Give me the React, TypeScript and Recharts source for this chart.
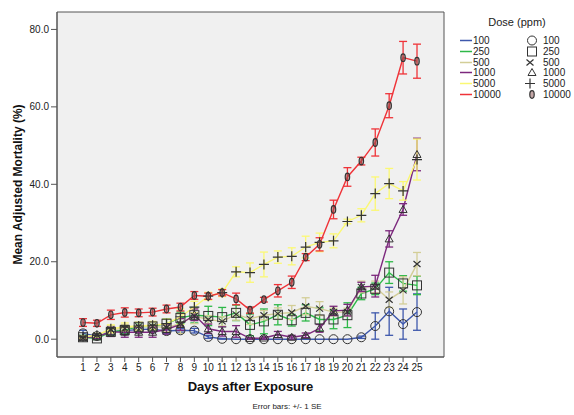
import React from "react";
import { ComposedChart, Line, ErrorBar, XAxis, YAxis, CartesianGrid, ReferenceArea } from "recharts";

const days = [1, 2, 3, 4, 5, 6, 7, 8, 9, 10, 11, 12, 13, 14, 15, 16, 17, 18, 19, 20, 21, 22, 23, 24, 25];

const dose100 = [1.5, 0.8, 1.9, 2.2, 2.5, 2.6, 2.1, 2.3, 2.2, 0.6, 0.1, 0, 0, 0, 0, 0, 0, 0, 0, 0, 0.5, 3.4, 7.2, 3.9, 7.0];
const dose100Se = [0.8, 0.5, 0.8, 0.8, 0.8, 0.7, 0.7, 0.5, 0.6, 0.4, 0.1, 0, 0, 0, 0, 0, 0, 0, 0, 0, 0.3, 3.4, 6.2, 3.9, 4.7];

const dose250 = [0.5, 0.2, 1.9, 2.4, 3.2, 3.3, 4.0, 5.5, 6.2, 6.0, 5.7, 6.8, 3.7, 4.6, 6.3, 4.9, 6.8, 5.1, 5.1, 6.2, 11.8, 13.0, 17.2, 14.4, 13.9];
const dose250Se = [0.5, 0.3, 1.0, 1.0, 1.0, 1.0, 1.2, 1.5, 2.0, 2.5, 2.5, 2.0, 2.8, 3.2, 2.6, 1.5, 2.1, 3.0, 2.4, 3.2, 1.6, 1.5, 2.8, 2.0, 2.4];

const dose500 = [0.3, 1.0, 2.5, 2.8, 3.3, 3.3, 3.0, 4.0, 6.0, 5.1, 4.6, 6.4, 5.3, 6.2, 6.6, 6.9, 8.5, 7.9, 7.0, 7.0, 13.5, 13.5, 10.2, 12.6, 19.4];
const dose500Se = [0.3, 0.5, 1.0, 1.0, 1.0, 1.0, 1.0, 2.5, 2.0, 1.0, 1.2, 1.5, 1.5, 1.2, 1.5, 1.8, 2.2, 1.8, 1.0, 1.0, 1.5, 1.5, 2.0, 3.5, 3.0];

const dose1000 = [0.4, 0.6, 1.9, 1.8, 1.8, 1.8, 2.5, 3.8, 6.3, 2.7, 2.0, 2.0, 0.2, 0.3, 1.2, 0.5, 1.0, 2.8, 7.3, 7.5, 13.5, 13.7, 25.9, 33.5, 47.7];
const dose1000Se = [0.3, 0.4, 1.2, 1.3, 1.3, 1.3, 1.2, 1.5, 1.5, 1.2, 1.2, 1.5, 0.2, 0.3, 0.8, 0.5, 0.6, 1.0, 1.2, 1.5, 1.2, 2.8, 2.1, 1.5, 4.2];

const dose5000 = [0.6, 1.0, 2.7, 3.2, 3.4, 3.6, 4.0, 5.8, 8.3, 11.1, 12.0, 17.4, 17.2, 19.3, 21.2, 21.4, 23.8, 25.0, 25.4, 30.4, 32.0, 37.6, 40.2, 38.3, 46.4];
const dose5000Se = [0.3, 0.5, 1.0, 1.0, 1.0, 1.0, 1.2, 2.0, 1.5, 1.0, 1.0, 1.3, 2.5, 3.2, 1.6, 2.2, 2.8, 2.4, 1.8, 0.6, 1.7, 4.3, 3.9, 2.4, 5.3];

const dose10000 = [4.3, 4.1, 6.3, 6.9, 6.8, 7.0, 7.8, 8.3, 11.3, 11.1, 12.0, 10.4, 7.5, 10.2, 12.5, 14.7, 21.2, 24.5, 33.5, 41.9, 46.0, 50.8, 60.3, 72.7, 71.8];
const dose10000Se = [1.0, 0.8, 1.2, 1.2, 1.0, 1.0, 1.0, 1.0, 1.0, 0.8, 0.8, 1.5, 0.8, 0.6, 1.6, 1.6, 0.9, 1.7, 2.4, 2.4, 1.0, 3.5, 3.1, 4.2, 4.4];

const yTicks = [0, 20, 40, 60, 80];

type Shape = "circle" | "square" | "cross" | "triangle" | "plus" | "zero";

const series = [
  { key: "d100", label: "100", mean: dose100, se: dose100Se, color: "#3E58AC", shape: "circle" as Shape },
  { key: "d250", label: "250", mean: dose250, se: dose250Se, color: "#2EB848", shape: "square" as Shape },
  { key: "d500", label: "500", mean: dose500, se: dose500Se, color: "#D3CE97", shape: "cross" as Shape },
  { key: "d1000", label: "1000", mean: dose1000, se: dose1000Se, color: "#7C287D", shape: "triangle" as Shape },
  { key: "d5000", label: "5000", mean: dose5000, se: dose5000Se, color: "#FBF873", shape: "plus" as Shape },
  { key: "d10000", label: "10000", mean: dose10000, se: dose10000Se, color: "#EF3338", shape: "zero" as Shape },
];

const rows = days.map((day, i) => {
  const row: Record<string, number> = { day };
  series.forEach((s) => {
    row[s.key] = s.mean[i];
    row[s.key + "Se"] = s.se[i];
  });
  return row;
});

const FONT = '"Liberation Sans", Arial, sans-serif';
const MARK = "#333";

function Marker({ shape, cx, cy }: { shape: Shape; cx: number; cy: number }) {
  const common = { fill: "none", stroke: MARK, strokeWidth: 1 };
  switch (shape) {
    case "circle":
      return <circle cx={cx} cy={cy} r={4.5} {...common} />;
    case "square":
      return <rect x={cx - 4.5} y={cy - 4.5} width={9} height={9} {...common} />;
    case "cross":
      return (
        <path d={`M${cx - 3.5},${cy - 3}L${cx + 3.5},${cy + 3}M${cx - 3.5},${cy + 3}L${cx + 3.5},${cy - 3}`} {...common} strokeWidth={1.2} />
      );
    case "triangle":
      return <path d={`M${cx},${cy - 4}L${cx + 4},${cy + 3}L${cx - 4},${cy + 3}Z`} {...common} />;
    case "plus":
      return <path d={`M${cx - 5},${cy}L${cx + 5},${cy}M${cx},${cy - 5}L${cx},${cy + 5}`} {...common} strokeWidth={1.2} />;
    default:
      return <ellipse cx={cx} cy={cy} rx={2.2} ry={3.8} fill="#8a5050" fillOpacity={0.5} stroke={MARK} strokeWidth={1.2} />;
  }
}

function makeDot(shape: Shape) {
  return (props: any) => {
    const { cx, cy, index } = props;
    return (
      <g key={`${shape}-${index}`}>
        <Marker shape={shape} cx={cx} cy={cy} />
      </g>
    );
  };
}

export default function App() {
  return (
    <div style={{ position: "absolute", left: 0, top: 0, width: 574, height: 415, background: "#fff", fontFamily: FONT }}>
      <ComposedChart width={574} height={415} data={rows} margin={{ top: 12, right: 130, left: 0, bottom: 0 }}>
        <CartesianGrid horizontal={false} vertical={false} fill="#F0F0F0" />
        <XAxis
          type="number"
          dataKey="day"
          domain={[-0.87, 26.94]}
          allowDataOverflow
          ticks={days}
          interval={0}
          height={58}
          tickSize={5}
          axisLine={{ stroke: "#555" }}
          tickLine={{ stroke: "#555" }}
          tick={{ fontSize: 10, fill: "#222", fontFamily: FONT }}
          label={{ value: "Days after Exposure", position: "insideBottom", offset: 24, style: { fontSize: 13, fontWeight: "bold", fill: "#111", fontFamily: FONT } }}
        />
        <YAxis
          type="number"
          domain={[-4.6, 84.5]}
          allowDataOverflow
          ticks={yTicks}
          width={57}
          tickSize={6}
          axisLine={{ stroke: "#555" }}
          tickLine={{ stroke: "#555" }}
          tickFormatter={(v: number) => v.toFixed(1)}
          tick={{ fontSize: 10, fill: "#222", fontFamily: FONT }}
          label={{ value: "Mean Adjusted Mortality (%)", angle: -90, position: "insideLeft", offset: 18, style: { textAnchor: "middle", fontSize: 12, fontWeight: "bold", fill: "#111", fontFamily: FONT } }}
        />
        {series.map((s) => (
          <Line
            key={s.key}
            type="linear"
            dataKey={s.key}
            stroke={s.color}
            strokeWidth={1.4}
            dot={makeDot(s.shape)}
            activeDot={false}
            isAnimationActive={false}
          >
            <ErrorBar dataKey={s.key + "Se"} width={4} stroke={s.color} strokeWidth={1.3} direction="y" isAnimationActive={false} />
          </Line>
        ))}
        <ReferenceArea x1={-0.87} x2={26.94} y1={-4.6} y2={84.5} fill="none" stroke="#555" strokeWidth={1} ifOverflow="visible" />
      </ComposedChart>

      <div style={{ position: "absolute", left: 460, top: 16, width: 114, textAlign: "center", fontSize: 11, color: "#222" }}>Dose (ppm)</div>
      {series.map((s, i) => (
        <div key={s.key} style={{ position: "absolute", left: 460, top: 35 + i * 10.8, height: 11, width: 114, fontSize: 10, color: "#222", lineHeight: "11px" }}>
          <svg width={114} height={11} style={{ position: "absolute", left: 0, top: 0 }}>
            <line x1={0} y1={5.5} x2={12} y2={5.5} stroke={s.color} strokeWidth={1.5} />
            <Marker shape={s.shape} cx={s.shape === "cross" || s.shape === "plus" ? 70 : 72} cy={5.5} />
          </svg>
          <span style={{ position: "absolute", left: 13, top: 0 }}>{s.label}</span>
          <span style={{ position: "absolute", left: 83, top: 0 }}>{s.label}</span>
        </div>
      ))}
      <div style={{ position: "absolute", left: 0, top: 402, width: 574, textAlign: "center", fontSize: 8, color: "#222" }}>Error bars: +/- 1 SE</div>
    </div>
  );
}
